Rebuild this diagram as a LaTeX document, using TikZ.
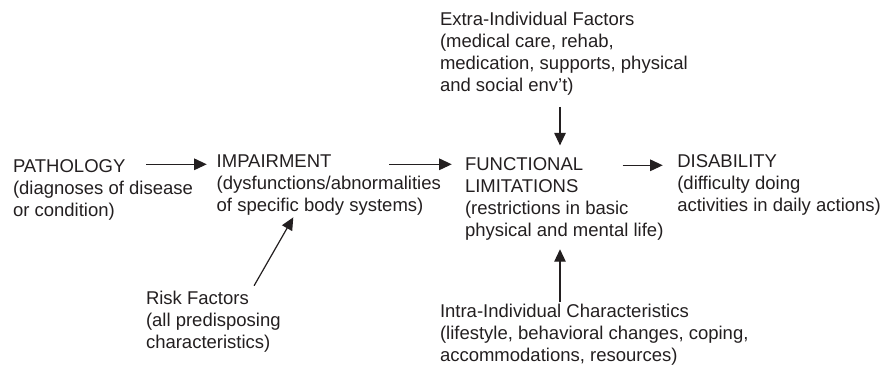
\documentclass[tikz,border=0pt]{standalone}
\usepackage{fontspec}
\setmainfont{Liberation Sans}
\usetikzlibrary{arrows.meta,calc}
\definecolor{ink}{HTML}{231F20}
% strut fixing the top of a multi-line block 15pt above its first baseline
\newcommand{\firststrut}{\rule{0pt}{15pt}}
\begin{document}
\begin{tikzpicture}[x=1pt,y=-1pt,
  txt/.style={inner sep=0pt,outer sep=0pt,text=ink,
    font=\fontsize{18.5}{22}\selectfont},
  title/.style={txt,anchor=base west},
  block/.style={txt,anchor=north west,align=left},
  arr/.style={draw=ink,line width=1.2pt,-{Triangle[length=12.5pt,width=11.5pt]}}]
\useasboundingbox (0,0) rectangle (891,364);

% main chain
\node[title] (pathoT) at (13,172) {PATHOLOGY};
\node[block] (pathoD) at ([yshift=-7pt]pathoT.base west)
  {\firststrut(diagnoses of disease\\or condition)};

\node[title] (impT) at (216.7,167.5) {IMPAIRMENT};
\node[block] (impD) at ([yshift=-7pt]impT.base west)
  {\firststrut(dysfunctions/abnormalities\\of specific body systems)};

\node[title] (funcT) at (465,170.5) {FUNCTIONAL};
\node[block] (funcD) at ([yshift=-7pt]funcT.base west)
  {\firststrut LIMITATIONS\\(restrictions in basic\\physical and mental life)};

\node[title] (disT) at (677.3,167.5) {DISABILITY};
\node[block] (disD) at ([yshift=-7pt]disT.base west)
  {\firststrut(difficulty doing\\activities in daily actions)};

% modifying factors
\node[block] (extra) at (440,10.7)
  {\firststrut Extra-Individual Factors\\(medical care, rehab,\\medication, supports, physical\\and social env’t)};

\node[block] (intra) at (440,302.3)
  {\firststrut Intra-Individual Characteristics\\(lifestyle, behavioral changes, coping,\\accommodations, resources)};

\node[title] (riskT) at (146,304) {Risk Factors};
\node[block] (riskD) at ([yshift=-7pt]riskT.base west)
  {\firststrut(all predisposing\\characteristics)};

% reference lines for the arrows
\coordinate (ay) at (0,164.3);
\coordinate (vx) at (560,0);

% horizontal arrows
\draw[arr] ($(pathoT.east |- ay)+(21pt,0pt)$) -- ($(impT.west |- ay)+(-10pt,0pt)$);
\draw[arr] ($(impT.east |- ay)+(58pt,0pt)$) -- ($(funcT.west |- ay)+(-13.3pt,0pt)$);
\draw[arr] ($(funcT.east |- ay)+(39.5pt,-1pt)$) -- ($(disT.west |- ay)+(-14.6pt,-1pt)$);

% vertical arrows
\draw[arr,shorten <=11.4pt,shorten >=12.2pt] (extra.south -| vx) -- (funcT.north -| vx);
\draw[arr,shorten >=8.9pt] (intra.north -| vx) -- (funcD.south -| vx);

% diagonal arrow
\draw[arr] ([shift={(5.3pt,4.9pt)}]riskT.north east) -- ([shift={(76.6pt,-2pt)}]impD.south west);
\end{tikzpicture}
\end{document}
